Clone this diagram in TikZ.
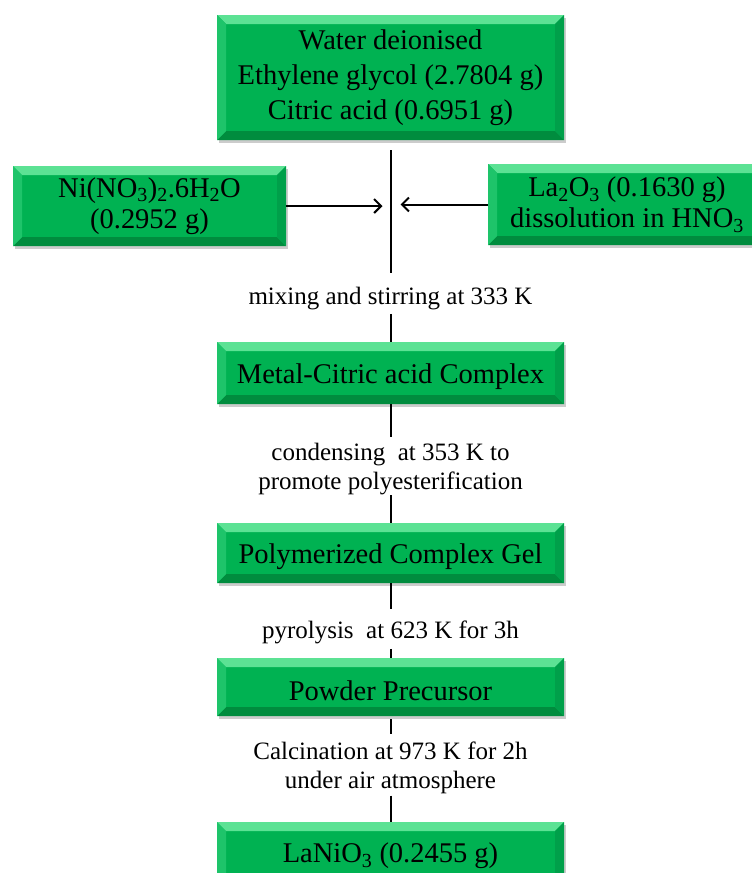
\documentclass[tikz,border=0pt]{standalone}
\usepackage{fontspec}
\setmainfont{Liberation Serif}
\usetikzlibrary{arrows.meta,shadows}
\definecolor{boxgreen}{RGB}{0,178,82}
\definecolor{bevtop}{RGB}{92,226,148}
\definecolor{bevleft}{RGB}{30,196,106}
\definecolor{bevright}{RGB}{0,160,74}
\definecolor{bevbottom}{RGB}{0,140,62}

\tikzset{
    stepbox/.style={fill=boxgreen, inner sep=0pt, align=center, text=black,
        font=\fontsize{28.5}{35}\selectfont, minimum width=347pt,
        execute at begin node={\rule{0pt}{28pt}},
        drop shadow={shadow xshift=2pt, shadow yshift=-3pt, opacity=.2, fill=black},
        path picture={
            \path (path picture bounding box.north west) coordinate (bnw)
                (path picture bounding box.north east) coordinate (bne)
                (path picture bounding box.south west) coordinate (bsw)
                (path picture bounding box.south east) coordinate (bse);
            \fill[bevtop] (bnw) -- (bne) -- ([shift={(-9pt,-9pt)}]bne) -- ([shift={(9pt,-9pt)}]bnw) -- cycle;
            \fill[bevbottom] (bsw) -- (bse) -- ([shift={(-9pt,9pt)}]bse) -- ([shift={(9pt,9pt)}]bsw) -- cycle;
            \fill[bevleft] (bnw) -- (bsw) -- ([shift={(9pt,9pt)}]bsw) -- ([shift={(9pt,-9pt)}]bnw) -- cycle;
            \fill[bevright] (bne) -- (bse) -- ([shift={(-9pt,9pt)}]bse) -- ([shift={(-9pt,-9pt)}]bne) -- cycle;
        }},
    sidebox/.style={stepbox, font=\fontsize{28.5}{31}\selectfont,
        execute at begin node={\rule{0pt}{27pt}}},
    steplabel/.style={inner sep=0pt, align=center, font=\fontsize{25}{29}\selectfont},
    flow/.style={line width=2pt},
    arr/.style={flow, -{Straight Barb[length=7pt,width=14pt]}}
}

\begin{document}
\begin{tikzpicture}[x=1pt, y=-1pt]
    \useasboundingbox (0,0) rectangle (752,873);
    % starting materials
    \node[stepbox, minimum height=125pt] (water) at (390.5,77.5)
        {Water deionised\\Ethylene glycol (2.7804 g)\\Citric acid (0.6951 g)};
    \node[sidebox, minimum width=273pt, minimum height=80pt] (nitrate) at (149.5,206)
        {Ni(NO\textsubscript{3})\textsubscript{2}.6H\textsubscript{2}O\\(0.2952 g)};
    \node[sidebox, minimum width=278pt, minimum height=81pt] (oxide) at (627,204.5)
        {La\textsubscript{2}O\textsubscript{3} (0.1630 g)\\dissolution in HNO\textsubscript{3}};
    \coordinate (mix) at (390.5,207);
    % process steps
    \node[steplabel] (mixing) at (390.5,298.2) {mixing and stirring at 333 K};
    \node[stepbox, minimum height=62pt] (complex) at (390.5,373) {Metal-Citric acid Complex};
    \node[steplabel] (condense) at (390.5,469.2) {condensing\ \ at 353 K to\\promote polyesterification};
    \node[stepbox, minimum height=60pt] (gel) at (390.5,553) {Polymerized Complex Gel};
    \node[steplabel] (pyro) at (390.5,632.2) {pyrolysis\ \ at 623 K for 3h};
    \node[stepbox, minimum height=58pt] (powder) at (390.5,687) {Powder Precursor};
    \node[steplabel] (calcine) at (390.5,767.5) {Calcination at 973 K for 2h\\under air atmosphere};
    \node[stepbox, minimum height=60pt] (lanio) at (390.5,852) {LaNiO\textsubscript{3} (0.2455 g)};
    % connectors
    \draw[flow, shorten <=10pt, shorten >=14pt] (water) -- (mixing);
    \draw[flow, shorten <=4pt] (mixing) -- (complex);
    \draw[flow, shorten >=6pt] (complex) -- (condense);
    \draw[flow] (condense) -- (gel);
    \draw[flow, shorten >=12pt] (gel) -- (pyro);
    \draw[flow, shorten <=5pt] (pyro) -- (powder);
    \draw[flow, shorten <=3pt, shorten >=7pt] (powder) -- (calcine);
    \draw[flow, shorten <=2pt] (calcine) -- (lanio);
    \draw[arr, shorten >=8pt] (nitrate) -- (nitrate -| mix);
    \draw[arr, shorten >=10pt] (oxide) -- (oxide -| mix);
\end{tikzpicture}
\end{document}
